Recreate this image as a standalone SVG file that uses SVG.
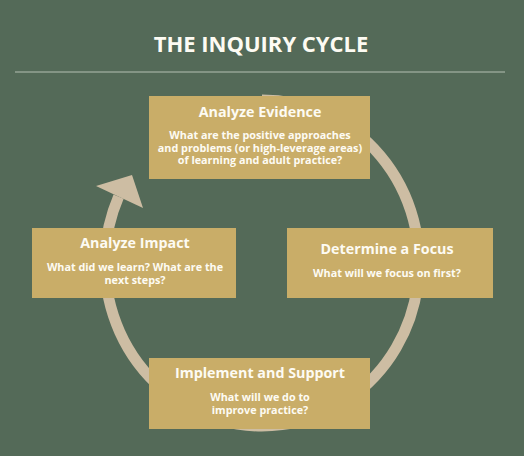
<svg xmlns="http://www.w3.org/2000/svg" width="524" height="456" viewBox="0 0 524 456">
<style>
.box{fill:#c9ad68;}
.t{font-family:"Open Sans","Liberation Sans",sans-serif;font-weight:700;fill:#fdfbf3;text-anchor:middle;}
.h{font-size:14.3px;}
.s{font-size:10.8px;}
</style>
<rect width="524" height="456" fill="#546a58"/>
<text class="t" x="261" y="52" font-size="22">THE INQUIRY CYCLE</text>
<line x1="15" y1="72" x2="505" y2="72" stroke="#b4bfb2" stroke-width="1"/>
<g id="connectors">
<path d="M 262 100 A 157 163 0 1 1 118.6 196.7" fill="none" stroke="#cdbda3" stroke-width="11"/>
<polygon points="96,186 132,175 143,208" fill="#cdbda3"/>
</g>
<g id="analyze-evidence">
<rect class="box" x="149" y="96" width="221" height="83"/>
<text class="t h" x="260" y="117">Analyze Evidence</text>
<text class="t s" x="260" y="139">What are the positive approaches</text>
<text class="t s" x="260" y="151.5">and problems (or high-leverage areas)</text>
<text class="t s" x="260" y="164">of learning and adult practice?</text>
</g>
<g id="determine-focus">
<rect class="box" x="287" y="228" width="206" height="70"/>
<text class="t h" x="387" y="254">Determine a Focus</text>
<text class="t s" x="387" y="277">What will we focus on first?</text>
</g>
<g id="implement-support">
<rect class="box" x="149" y="358" width="221" height="71"/>
<text class="t h" x="260" y="378">Implement and Support</text>
<text class="t s" x="260" y="401">What will we do to</text>
<text class="t s" x="260" y="413.5">improve practice?</text>
</g>
<g id="analyze-impact">
<rect class="box" x="32" y="228" width="204" height="70"/>
<text class="t h" x="135" y="248">Analyze Impact</text>
<text class="t s" x="135" y="271">What did we learn? What are the</text>
<text class="t s" x="135" y="283.5">next steps?</text>
</g>
</svg>
